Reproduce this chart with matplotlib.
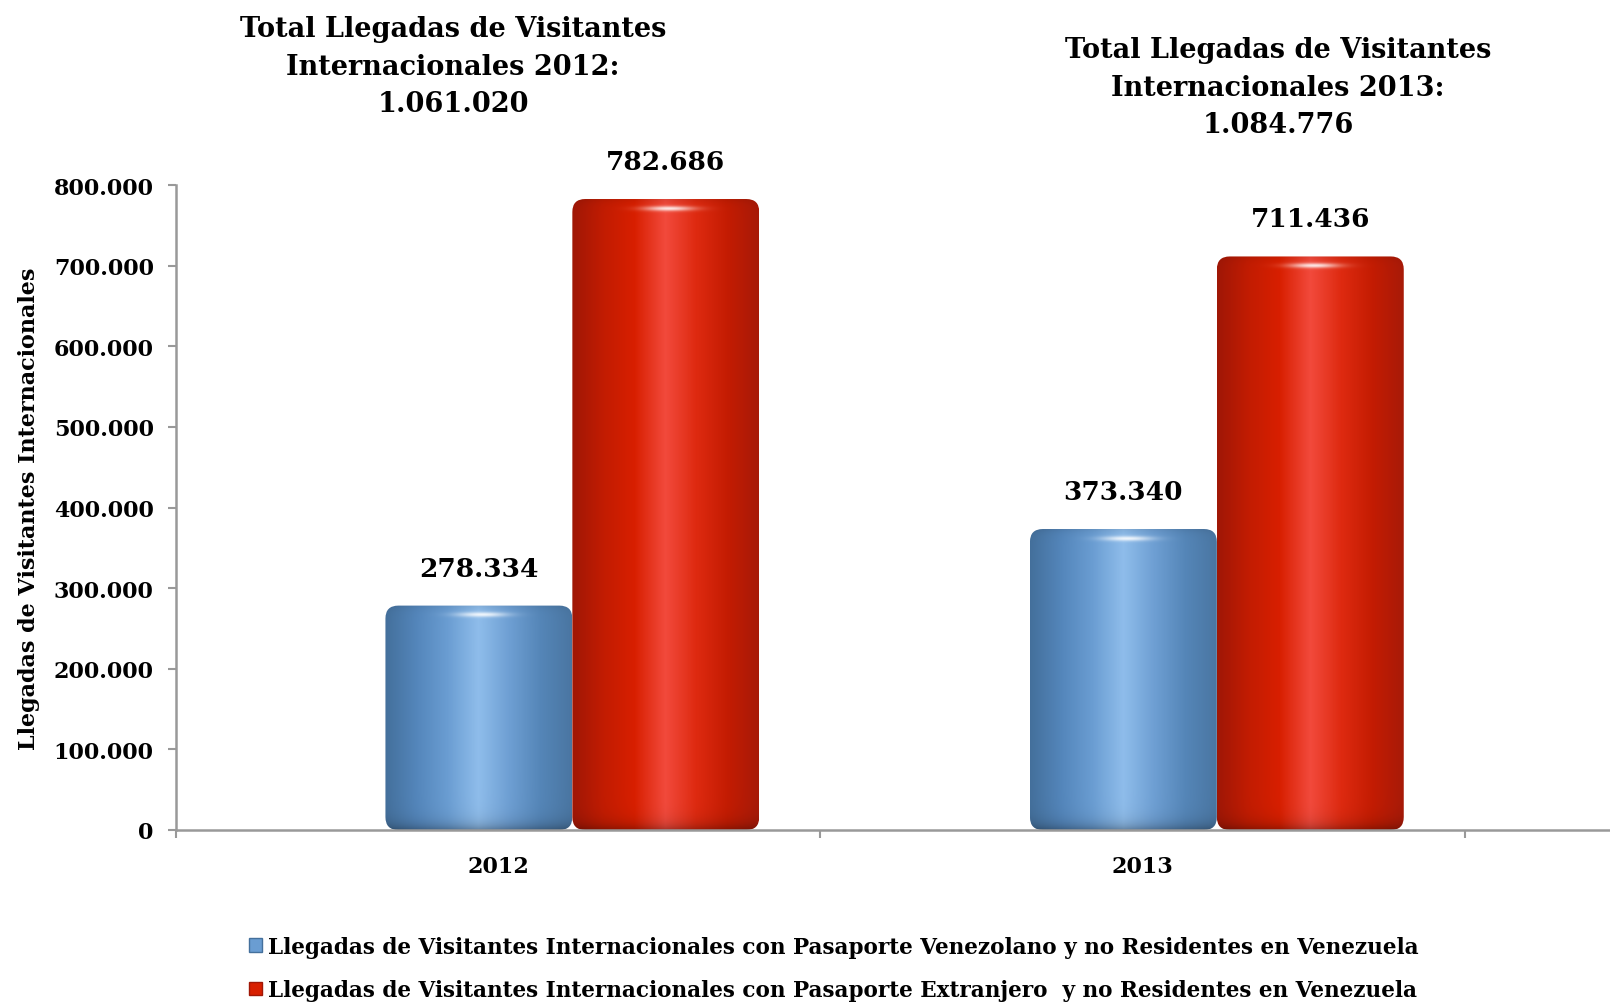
import numpy as np
import matplotlib.pyplot as plt
from matplotlib.colors import LinearSegmentedColormap
from matplotlib.patches import FancyBboxPatch, Patch
from matplotlib.ticker import FuncFormatter
from matplotlib.transforms import blended_transform_factory

years = ["2012", "2013"]
venezolano = [278334, 373340]
extranjero = [782686, 711436]
series_names = [
    "Llegadas de Visitantes Internacionales con Pasaporte Venezolano y no Residentes en Venezuela",
    "Llegadas de Visitantes Internacionales con Pasaporte Extranjero  y no Residentes en Venezuela",
]
y_ticks = [0, 100000, 200000, 300000, 400000, 500000, 600000, 700000, 800000]

blue_cols = ["#44709c", "#5486bb", "#6a9dd2", "#8fbdeb", "#6e9fd3", "#5586b8", "#4a76a2"]
red_cols = ["#a01706", "#c21c02", "#d81f00", "#f24a3c", "#de2a10", "#c41c02", "#a81a08"]

plt.rcParams["font.family"] = ["DejaVu Serif"]
plt.rcParams["font.weight"] = "bold"


def fmt(v, pos=None):
    return f"{v:,.0f}".replace(",", ".")


def cylinder(colors, w_px, h_px):
    cmap = LinearSegmentedColormap.from_list("c", colors)
    u = np.linspace(0, 1, max(w_px, 2))
    v = np.arange(max(h_px, 2), dtype=float)
    img = np.repeat(cmap(u)[None, :, :3], len(v), axis=0)
    bottom = 1 - 0.3 * np.exp(-(len(v) - 1 - v) / 7)
    top = 1 - 0.08 * np.exp(-v / 4)
    img = img * (bottom * top)[:, None, None]
    hl = np.exp(-((v - 9) / 2.5) ** 2)[:, None] * np.exp(-((u - 0.52) / 0.13) ** 2)[None, :]
    img = img + (1 - img) * 0.85 * hl[:, :, None]
    return np.clip(img, 0, 1)


fig = plt.figure(figsize=(16.1, 10.03), dpi=100)
ax = fig.add_axes([0.1093, 0.1715, 0.8907, 0.643])
ax.set_xlim(-0.5, 1.725)
ax.set_ylim(0, 800000)
ax.set_autoscale_on(False)

x = np.arange(len(years))
width = 0.29
b1 = ax.bar(x - 0.03, venezolano, width, color="none")
b2 = ax.bar(x + 0.26, extranjero, width, color="none")

# pixel aspect so the rounded corners look round
fig.canvas.draw()
p0 = ax.transData.transform((0, 0))
p1 = ax.transData.transform((1, 100000))
px_x = p1[0] - p0[0]
px_y = (p1[1] - p0[1]) / 100000
aspect = px_x / px_y

for bars, cols in [(b1, blue_cols), (b2, red_cols)]:
    for r in bars:
        x0, w, h = r.get_x(), r.get_width(), r.get_height()
        shape = FancyBboxPatch((x0, 0), w, h,
                               boxstyle="round,pad=0,rounding_size=0.02",
                               mutation_aspect=aspect, facecolor="none",
                               edgecolor="none", transform=ax.transData)
        ax.add_patch(shape)
        img = cylinder(cols, int(w * px_x), int(h * px_y))
        im = ax.imshow(img, extent=(x0, x0 + w, 0, h), aspect="auto",
                       origin="upper", interpolation="bilinear", zorder=2)
        im.set_clip_path(shape)
        ax.annotate(fmt(h), (x0 + w / 2, h), xytext=(0, 27),
                    textcoords="offset points", ha="center", va="center",
                    fontsize=19, fontweight="bold")

ax.set_xlim(-0.5, 1.725)
ax.set_ylim(0, 800000)

ax.set_yticks(y_ticks)
ax.yaxis.set_major_formatter(FuncFormatter(fmt))
ax.set_xticks(x)
ax.set_xticklabels(years)
ax.set_xticks([-0.5, 0.5, 1.5], minor=True)
ax.tick_params(axis="x", which="major", length=0, pad=18, labelsize=16)
ax.tick_params(axis="x", which="minor", length=6, color="#999999", width=1.5)
ax.tick_params(axis="y", length=6, color="#999999", width=1.5, labelsize=16, pad=10)
for s in ["top", "right"]:
    ax.spines[s].set_visible(False)
for s in ["left", "bottom"]:
    ax.spines[s].set_color("#999999")
    ax.spines[s].set_linewidth(1.8)
ax.set_ylabel("Llegadas de Visitantes Internacionales", fontsize=16,
              fontweight="bold")
ax.yaxis.set_label_coords(-0.095, 0.5)

# totals above each group
trans = blended_transform_factory(ax.transData, fig.transFigure)
totals = [a + b for a, b in zip(venezolano, extranjero)]
title_pos = [(-0.07, 0.984), (1.21, 0.963)]
for yr, tot, (tx, ty) in zip(years, totals, title_pos):
    ax.text(tx, ty, f"Total Llegadas de Visitantes\nInternacionales {yr}:\n{fmt(tot)}",
            transform=trans, ha="center", va="top", fontsize=19.5,
            fontweight="bold", linespacing=1.5)

handles = [Patch(facecolor=blue_cols[2], edgecolor=blue_cols[0]),
           Patch(facecolor=red_cols[2], edgecolor=red_cols[0])]
fig.legend(handles, series_names, loc="upper left",
           bbox_to_anchor=(0.148, 0.077), frameon=False, fontsize=15.5,
           handlelength=0.6, handleheight=0.6, handletextpad=0.3,
           labelspacing=1.0, borderpad=0)

fig.savefig("out.png", dpi=100)
